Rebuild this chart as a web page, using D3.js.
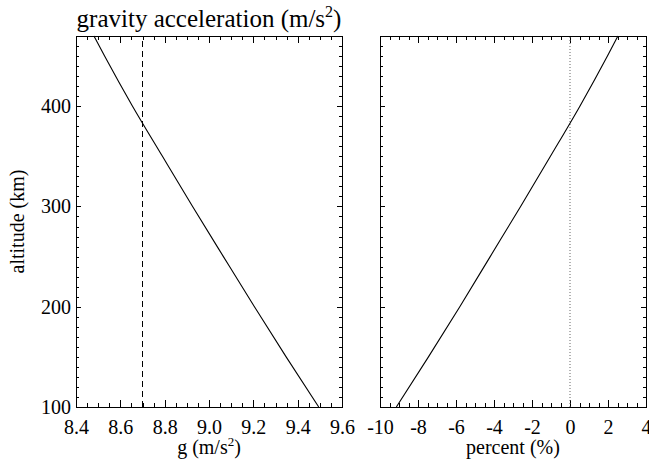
<!DOCTYPE html>
<html>
<head>
<meta charset="utf-8">
<script src="https://cdn.jsdelivr.net/npm/d3@7"></script>
<style>
  body { margin: 0; background: #fff; }
  svg text { font-family: "Liberation Serif", "Times New Roman", serif; }
  .axis path, .axis line { stroke: #000; shape-rendering: crispEdges; }
</style>
</head>
<body>
<div id="chart"></div>
<script>
// values
var altitude = [100, 150, 200, 250, 300, 350, 400, 450, 470];
var gravity = [9.495, 9.348, 9.205, 9.065, 8.926, 8.790, 8.655, 8.529, 8.481];
var percent = [-9.14, -7.45, -5.80, -4.20, -2.60, -1.03, 0.52, 1.97, 2.52];
var gRef = 8.7;
var pctRef = 0;

var gTicks = [8.4, 8.6, 8.8, 9.0, 9.2, 9.4, 9.6];
var gLabels = ["8.4", "8.6", "8.8", "9.0", "9.2", "9.4", "9.6"];
var pctTicks = [-10, -8, -6, -4, -2, 0, 2, 4];
var pctLabels = ["-10", "-8", "-6", "-4", "-2", "0", "2", "4"];
var altTicks = [100, 200, 300, 400];
var altLabels = ["100", "200", "300", "400"];

var width = 649, height = 464;
var plotTop = 36, plotBottom = 407;
var panels = [
  {x0: 76, x1: 342, domain: [8.4, 9.6], ticks: gTicks, labels: gLabels, minorStep: 0.05,
   values: gravity, ref: gRef, dash: "6,4", refColor: "#000", yLabels: true,
   title: ["g (m/s", "2", ")"]},
  {x0: 380, x1: 646, domain: [-10, 4], ticks: pctTicks, labels: pctLabels, minorStep: 0.5,
   values: percent, ref: pctRef, dash: "1,2", refColor: "#666", yLabels: false,
   title: ["percent (%)"]}
];

var svg = d3.select("#chart").append("svg")
  .attr("width", width)
  .attr("height", height);

var y = d3.scaleLinear().domain([100, 470]).range([plotBottom, plotTop]);
var altMinor = d3.range(0, 38).map(function(i) { return 100 + i * 10; });

function styleAxis(sel) {
  sel.attr("font-family", null).attr("font-size", 20);
  sel.selectAll("text").attr("fill", "#000");
}

panels.forEach(function(p) {
  var x = d3.scaleLinear().domain(p.domain).range([p.x0, p.x1]);
  var n = Math.round((p.domain[1] - p.domain[0]) / p.minorStep);
  var minor = d3.range(0, n + 1).map(function(i) { return p.domain[0] + i * p.minorStep; });
  var majorX = 0.02 * (plotBottom - plotTop), majorY = 0.02 * (p.x1 - p.x0);

  // bottom + top
  svg.append("g").attr("class", "axis")
    .attr("transform", "translate(0," + plotBottom + ")")
    .call(d3.axisBottom(x).tickValues(minor).tickSize(-majorX / 2).tickSizeOuter(0).tickFormat(""));
  svg.append("g").attr("class", "axis")
    .attr("transform", "translate(0," + plotBottom + ")")
    .call(d3.axisBottom(x).tickValues(p.ticks).tickSize(-majorX).tickSizeOuter(0).tickPadding(13)
      .tickFormat(function(d, i) { return p.labels[i]; }))
    .call(styleAxis);
  svg.append("g").attr("class", "axis")
    .attr("transform", "translate(0," + plotTop + ")")
    .call(d3.axisTop(x).tickValues(minor).tickSize(-majorX / 2).tickSizeOuter(0).tickFormat(""));
  svg.append("g").attr("class", "axis")
    .attr("transform", "translate(0," + plotTop + ")")
    .call(d3.axisTop(x).tickValues(p.ticks).tickSize(-majorX).tickSizeOuter(0).tickFormat(""));

  // left + right
  svg.append("g").attr("class", "axis")
    .attr("transform", "translate(" + p.x0 + ",0)")
    .call(d3.axisLeft(y).tickValues(altMinor).tickSize(-majorY / 2).tickSizeOuter(0).tickFormat(""));
  svg.append("g").attr("class", "axis")
    .attr("transform", "translate(" + p.x0 + ",0)")
    .call(d3.axisLeft(y).tickValues(altTicks).tickSize(-majorY).tickSizeOuter(0).tickPadding(5)
      .tickFormat(function(d, i) { return p.yLabels ? altLabels[i] : ""; }))
    .call(styleAxis);
  svg.append("g").attr("class", "axis")
    .attr("transform", "translate(" + p.x1 + ",0)")
    .call(d3.axisRight(y).tickValues(altMinor).tickSize(-majorY / 2).tickSizeOuter(0).tickFormat(""));
  svg.append("g").attr("class", "axis")
    .attr("transform", "translate(" + p.x1 + ",0)")
    .call(d3.axisRight(y).tickValues(altTicks).tickSize(-majorY).tickSizeOuter(0).tickFormat(""));

  // reference line
  svg.append("line")
    .attr("x1", x(p.ref)).attr("x2", x(p.ref))
    .attr("y1", y(100)).attr("y2", y(470))
    .attr("stroke", p.refColor)
    .attr("stroke-width", 1)
    .attr("stroke-dasharray", p.dash);

  // curve
  var line = d3.line()
    .x(function(d, i) { return x(p.values[i]); })
    .y(function(d) { return y(d); })
    .curve(d3.curveMonotoneY);
  svg.append("path")
    .datum(altitude)
    .attr("d", line)
    .attr("fill", "none")
    .attr("stroke", "#000")
    .attr("stroke-width", 1.1);

  // x title
  var t = svg.append("text")
    .attr("x", (p.x0 + p.x1) / 2)
    .attr("y", 454)
    .attr("text-anchor", "middle")
    .attr("font-size", 20);
  t.append("tspan").text(p.title[0]);
  if (p.title.length > 1) {
    t.append("tspan").attr("dy", -8).attr("font-size", 13).text(p.title[1]);
    t.append("tspan").attr("dy", 8).text(p.title[2]);
  }
});

// y title
svg.append("text")
  .attr("transform", "translate(24," + (plotTop + plotBottom) / 2 + ") rotate(-90)")
  .attr("text-anchor", "middle")
  .attr("font-size", 20)
  .text("altitude (km)");

// main title
var title = svg.append("text")
  .attr("x", 209)
  .attr("y", 27)
  .attr("text-anchor", "middle")
  .attr("font-size", 25);
title.append("tspan").text("gravity acceleration (m/s");
title.append("tspan").attr("dy", -10).attr("font-size", 16).text("2");
title.append("tspan").attr("dy", 10).text(")");
</script>
</body>
</html>
